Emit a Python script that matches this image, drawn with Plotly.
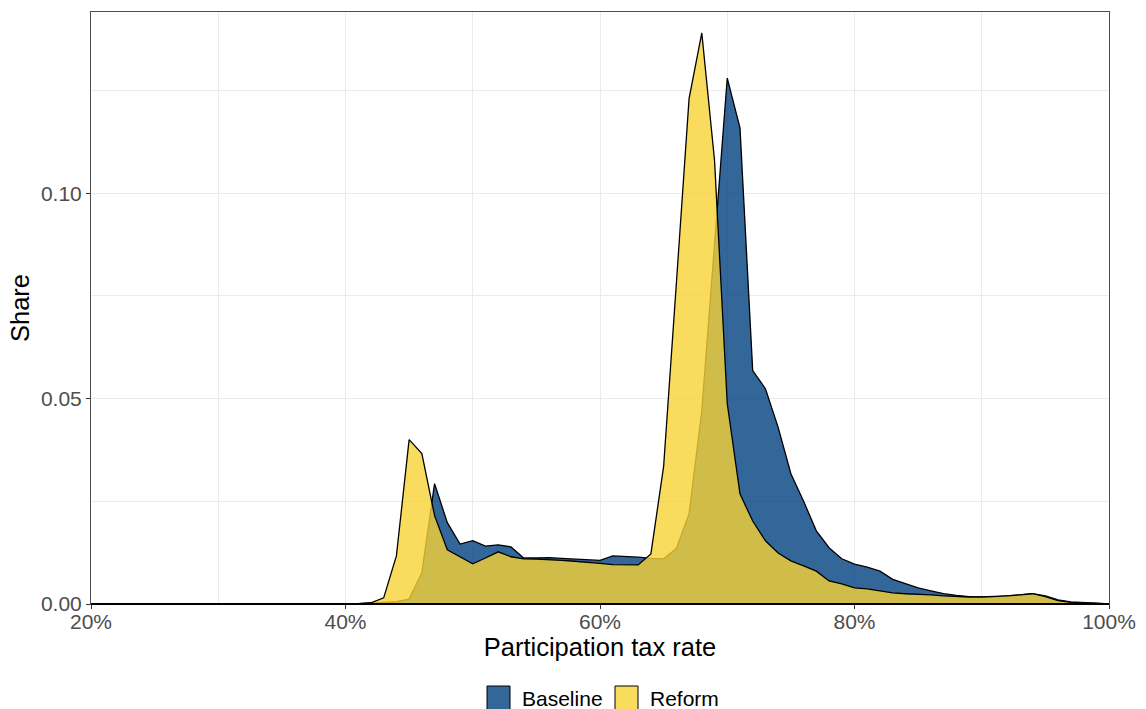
import plotly.graph_objects as go

# ---------------- data ----------------
rates = list(range(20, 101))  # participation tax rate, %

baseline = [0.0] * 21 + [
    0.0001, 0.0002, 0.0004, 0.0006, 0.0012, 0.0076, 0.0293, 0.0198, 0.0146, 0.0154,   # 41-50
    0.0141, 0.0144, 0.0139, 0.0112, 0.0112, 0.0113, 0.0111, 0.0109, 0.0107, 0.0106,   # 51-60
    0.0117, 0.0116, 0.0114, 0.0111, 0.0110, 0.0135, 0.0220, 0.0470, 0.0880, 0.1280,   # 61-70
    0.1159, 0.0568, 0.0524, 0.0430, 0.0317, 0.0250, 0.0178, 0.0137, 0.0110, 0.0097,   # 71-80
    0.0090, 0.0080, 0.0060, 0.0049, 0.0039, 0.0032, 0.0025, 0.0021, 0.0018, 0.0017,   # 81-90
    0.0017, 0.0020, 0.0023, 0.0025, 0.0020, 0.0010, 0.0005, 0.0004, 0.0002, 0.0000,   # 91-100
]

reform = [0.0] * 21 + [
    0.0001, 0.0003, 0.0015, 0.0117, 0.0400, 0.0366, 0.0215, 0.0132, 0.0115, 0.0098,   # 41-50
    0.0112, 0.0127, 0.0115, 0.0110, 0.0109, 0.0108, 0.0106, 0.0104, 0.0102, 0.0099,   # 51-60
    0.0096, 0.0095, 0.0095, 0.0122, 0.0335, 0.0780, 0.1230, 0.1390, 0.1080, 0.0488,   # 61-70
    0.0268, 0.0202, 0.0154, 0.0124, 0.0105, 0.0093, 0.0080, 0.0056, 0.0049, 0.0039,   # 71-80
    0.0037, 0.0032, 0.0027, 0.0025, 0.0024, 0.0022, 0.0020, 0.0018, 0.0017, 0.0017,   # 81-90
    0.0018, 0.0020, 0.0022, 0.0025, 0.0018, 0.0008, 0.0004, 0.0003, 0.0002, 0.0000,   # 91-100
]

series_names = ["Baseline", "Reform"]
x_ticks = [20, 40, 60, 80, 100]
x_ticktext = ["20%", "40%", "60%", "80%", "100%"]
y_ticks = [0.0, 0.05, 0.10]
y_ticktext = ["0.00", "0.05", "0.10"]

# ---------------- style ----------------
FONT = "Liberation Sans, Arial, Helvetica, sans-serif"
BLUE_FILL = "rgba(0,65,129,0.80)"
YELLOW_FILL = "rgba(248,211,53,0.80)"
BLUE_KEY = "#336699"
YELLOW_KEY = "#F9DC5D"

fig = go.Figure()
fig.add_trace(go.Scatter(
    x=rates, y=baseline, name=series_names[0], mode="lines",
    fill="tozeroy", fillcolor=BLUE_FILL,
    line=dict(color="black", width=1.3), showlegend=False,
    hoverinfo="x+y+name",
))
fig.add_trace(go.Scatter(
    x=rates, y=reform, name=series_names[1], mode="lines",
    fill="tozeroy", fillcolor=YELLOW_FILL,
    line=dict(color="black", width=1.3), showlegend=False,
    hoverinfo="x+y+name",
))

W, H = 1146, 709
L, R, T, B = 91, 37, 12, 105
pw, ph = W - L - R, H - T - B


def px_x(p):
    return (p - L) / pw


def px_y(q):
    return (H - B - q) / ph


fig.update_layout(
    width=W, height=H,
    margin=dict(l=L, r=R, t=T, b=B, pad=0),
    paper_bgcolor="white", plot_bgcolor="white",
    font=dict(family=FONT, color="black"),
    showlegend=False,
    xaxis=dict(
        range=[20, 100], tickvals=x_ticks, ticktext=x_ticktext,
        ticks="outside", ticklen=4, tickwidth=1, tickcolor="#333333",
        ticklabelstandoff=-5,
        tickfont=dict(size=21, color="#4D4D4D", family=FONT),
        showgrid=True, gridcolor="#EBEBEB", gridwidth=1,
        minor=dict(dtick=10, tick0=20, showgrid=True, gridcolor="#EBEBEB", gridwidth=0.5),
        showline=True, linecolor="#4D4D4D", linewidth=1, mirror=True,
        zeroline=False, automargin=False,
        title=dict(text="Participation tax rate", font=dict(size=25.5, color="black", family=FONT), standoff=4),
    ),
    yaxis=dict(
        range=[0, 0.1441], tickvals=y_ticks, ticktext=y_ticktext,
        ticks="outside", ticklen=4, tickwidth=1, tickcolor="#333333",
        tickfont=dict(size=21, color="#4D4D4D", family=FONT),
        showgrid=True, gridcolor="#EBEBEB", gridwidth=1,
        minor=dict(dtick=0.025, tick0=0, showgrid=True, gridcolor="#EBEBEB", gridwidth=0.5),
        showline=True, linecolor="#4D4D4D", linewidth=1, mirror=True,
        zeroline=False, automargin=False,
        title=dict(text="Share", font=dict(size=25.5, color="black", family=FONT), standoff=3),
    ),
)

# outline along the zero baseline (the areas' black outlines at y = 0)
fig.add_shape(type="line", xref="paper", yref="paper", x0=0, x1=1, y0=0, y1=0,
              line=dict(color="black", width=2), layer="above")

# legend drawn as keys + labels at the bottom centre
key_y0, key_y1 = px_y(686), px_y(710)
legend_items = [
    (series_names[0], BLUE_KEY, 487, 520),
    (series_names[1], YELLOW_KEY, 615, 648),
]
for name, col, kx, tx in legend_items:
    fig.add_shape(type="rect", xref="paper", yref="paper",
                  x0=px_x(kx), x1=px_x(kx + 23), y0=key_y1, y1=key_y0,
                  fillcolor=col, line=dict(color="black", width=1))
    fig.add_annotation(text=name, xref="paper", yref="paper",
                       x=px_x(tx), y=px_y(698), xanchor="left", yanchor="middle",
                       showarrow=False, font=dict(size=21, color="black", family=FONT))

fig.write_html(
    "out.html",
    config={"displayModeBar": False},
    post_script="document.body.style.margin='0px';document.body.style.overflow='hidden';",
)
